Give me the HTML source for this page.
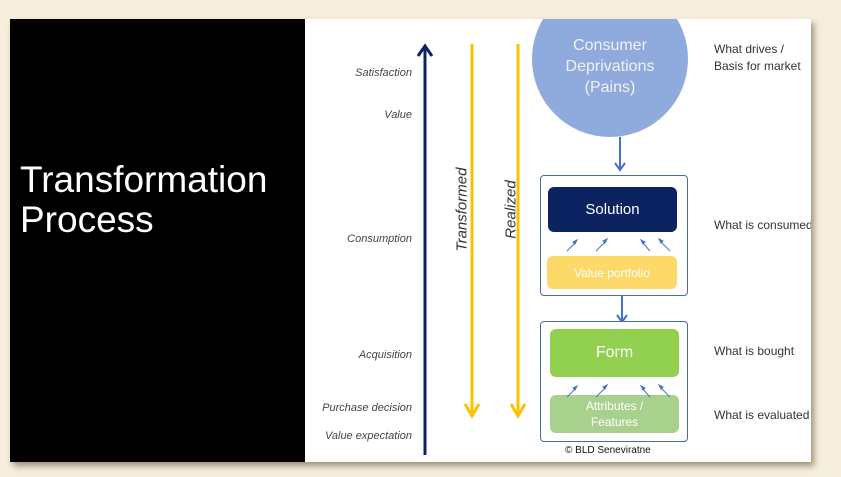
<!DOCTYPE html>
<html><head><meta charset="utf-8"><style>
body{margin:0;width:841px;height:477px;background:#f6efdd;position:relative;overflow:hidden;font-family:"Liberation Sans",sans-serif}
.slide{position:absolute;left:10px;top:19px;width:801px;height:443px;background:#fff;box-shadow:3px 4px 6px rgba(90,70,40,.55);overflow:hidden}
.black{position:absolute;left:0;top:0;width:295px;height:443px;background:#000}
.t{position:absolute;color:#fff;font-size:37px;left:10px;line-height:40px}
.l{position:absolute;font-style:italic;font-size:11px;color:#444;text-align:right;width:130px;left:272px}
.r{position:absolute;font-size:12px;color:#333;left:704px;line-height:17px;white-space:nowrap}
.box{position:absolute;border:1.3px solid #4a6aa8;border-radius:4px;background:#fff}
.rb{position:absolute;border-radius:6px;color:#fff;display:flex;align-items:center;justify-content:center;text-align:center}
</style></head><body>
<div class="slide">
<div class="black">
<div class="t" style="top:141px">Transformation</div>
<div class="t" style="top:181px">Process</div>
</div>
<svg style="position:absolute;left:0;top:0" width="801" height="443">
<circle cx="600" cy="40" r="78" fill="#8faadc"/>
<line x1="415" y1="30" x2="415" y2="436" stroke="#0b2360" stroke-width="3"/>
<polyline points="408,37 415,27 422,37" fill="none" stroke="#0b2360" stroke-width="3"/>
<line x1="462" y1="25" x2="462" y2="396" stroke="#ffc000" stroke-width="3"/>
<polyline points="455,385 462,397 469,385" fill="none" stroke="#ffc000" stroke-width="3"/>
<line x1="508" y1="25" x2="508" y2="396" stroke="#ffc000" stroke-width="3"/>
<polyline points="501,385 508,397 515,385" fill="none" stroke="#ffc000" stroke-width="3"/>
<line x1="610" y1="118" x2="610" y2="150" stroke="#4472c4" stroke-width="2"/>
<polyline points="605,144 610,151 615,144" fill="none" stroke="#4472c4" stroke-width="2"/>
<line x1="612" y1="277" x2="612" y2="302" stroke="#4472c4" stroke-width="2"/>
<polyline points="607,296 612,303 617,296" fill="none" stroke="#4472c4" stroke-width="2"/>
</svg>
<div style="position:absolute;left:525px;top:16px;width:150px;text-align:center;color:#f2f2f2;font-size:16px;line-height:21px">Consumer<br>Deprivations<br>(Pains)</div>
<div class="l" style="top:48px">Satisfaction</div>
<div class="l" style="top:90px">Value</div>
<div class="l" style="top:214px">Consumption</div>
<div class="l" style="top:330px">Acquisition</div>
<div class="l" style="top:383px">Purchase decision</div>
<div class="l" style="top:411px">Value expectation</div>
<div style="position:absolute;left:402px;top:182px;width:100px;text-align:center;transform:rotate(-90deg);font-style:italic;font-size:15px;color:#333">Transformed</div>
<div style="position:absolute;left:451px;top:182px;width:100px;text-align:center;transform:rotate(-90deg);font-style:italic;font-size:15px;color:#333">Realized</div>
<div class="box" style="left:530px;top:156px;width:146px;height:119px"></div>
<div class="rb" style="left:538px;top:168px;width:129px;height:45px;background:#0b2360;font-size:15px">Solution</div>
<div class="rb" style="left:537px;top:237px;width:130px;height:33px;background:#fdd96a;font-size:12px">Value portfolio</div>
<div class="box" style="left:530px;top:302px;width:146px;height:119px"></div>
<div class="rb" style="left:540px;top:310px;width:129px;height:48px;background:#92d050;font-size:16px">Form</div>
<div class="rb" style="left:540px;top:376px;width:129px;height:38px;background:#a9d18e;font-size:12px;line-height:16px">Attributes /<br>Features</div>
<svg style="position:absolute;left:0;top:0" width="801" height="443" stroke="#4472c4" stroke-width="1" fill="#4472c4">
<g id="a"><line x1="557" y1="232" x2="566" y2="223"/><line x1="586" y1="232" x2="596" y2="222"/><line x1="640" y1="232" x2="632" y2="223"/><line x1="660" y1="232" x2="650" y2="222"/>
<polygon points="567,221 563,223 565,225" /><polygon points="597,220 593,222 595,224"/><polygon points="631,221 635,223 633,225"/><polygon points="649,220 653,222 651,224"/></g>
<g transform="translate(0,146)"><line x1="557" y1="232" x2="566" y2="223"/><line x1="586" y1="232" x2="596" y2="222"/><line x1="640" y1="232" x2="632" y2="223"/><line x1="660" y1="232" x2="650" y2="222"/>
<polygon points="567,221 563,223 565,225" /><polygon points="597,220 593,222 595,224"/><polygon points="631,221 635,223 633,225"/><polygon points="649,220 653,222 651,224"/></g>
</svg>
<div style="position:absolute;left:555px;top:426px;font-size:10px;color:#111">© BLD Seneviratne</div>
<div class="r" style="top:22px">What drives /<br>Basis for market</div>
<div class="r" style="top:198px">What is consumed</div>
<div class="r" style="top:324px">What is bought</div>
<div class="r" style="top:388px">What is evaluated</div>
</div>
</body></html>
